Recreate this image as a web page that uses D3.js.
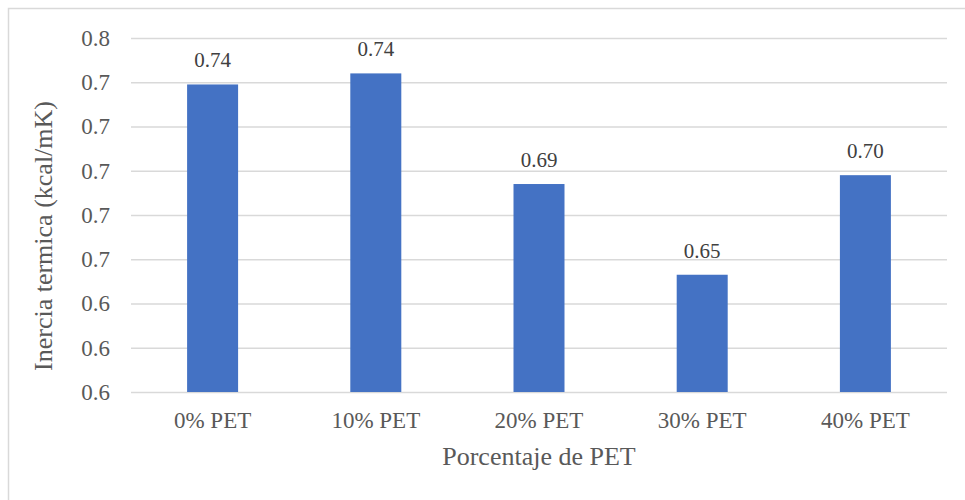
<!DOCTYPE html>
<html>
<head>
<meta charset="utf-8">
<script src="https://cdn.jsdelivr.net/npm/d3@7"></script>
<style>
  html, body { margin: 0; padding: 0; background: #ffffff; }
  svg { display: block; }
  text { font-family: "Liberation Serif", "Times New Roman", serif; }
</style>
</head>
<body>
<svg id="chart" width="965" height="500"></svg>
<script>
// Thermal inertia by PET content
const categories = ["0% PET", "10% PET", "20% PET", "30% PET", "40% PET"];
const inertia = [0.739, 0.744, 0.694, 0.653, 0.698];
const yTickValues = [0.60, 0.62, 0.64, 0.66, 0.68, 0.70, 0.72, 0.74, 0.76];
const yTitle = "Inercia termica (kcal/mK)";
const xTitle = "Porcentaje de PET";

const svg = d3.select("#chart");
const plot = { left: 131, right: 947, top: 38, bottom: 392 };

// outer chart frame
svg.append("rect")
  .attr("x", 8.5).attr("y", 8.5)
  .attr("width", 1000).attr("height", 600)
  .attr("fill", "none")
  .attr("stroke", "#d9d9d9")
  .attr("stroke-width", 1.5);

const x = d3.scaleBand()
  .domain(categories)
  .range([plot.left, plot.right])
  .paddingInner(0.6875)
  .paddingOuter(0.34375);

const y = d3.scaleLinear()
  .domain([0.60, 0.76])
  .range([plot.bottom, plot.top]);

// gridlines and tick labels
const yAxis = d3.axisLeft(y)
  .tickValues(yTickValues)
  .tickFormat(d3.format(".1f"))
  .tickSize(-(plot.right - plot.left))
  .tickPadding(21);

const gy = svg.append("g")
  .attr("transform", `translate(${plot.left},0)`)
  .call(yAxis);
gy.select(".domain").remove();
gy.selectAll(".tick line")
  .attr("stroke", "#d9d9d9")
  .attr("stroke-width", 1.5);
gy.selectAll(".tick text")
  .attr("fill", "#595959")
  .style("font-size", "23px")
  .style("font-family", "'Liberation Serif', 'Times New Roman', serif");

// bars
svg.append("g").selectAll("rect")
  .data(categories)
  .join("rect")
  .attr("x", d => x(d))
  .attr("width", x.bandwidth())
  .attr("y", (d, i) => y(inertia[i]))
  .attr("height", (d, i) => y(0.60) - y(inertia[i]))
  .attr("fill", "#4472c4");

// value labels
svg.append("g").selectAll("text")
  .data(categories)
  .join("text")
  .attr("x", d => x(d) + x.bandwidth() / 2)
  .attr("y", (d, i) => y(inertia[i]) - 17)
  .attr("text-anchor", "middle")
  .attr("fill", "#404040")
  .style("font-size", "21px")
  .text((d, i) => d3.format(".2f")(inertia[i]));

// category axis
const xAxis = d3.axisBottom(x).tickSize(0).tickPadding(20);
const gx = svg.append("g")
  .attr("transform", `translate(0,${plot.bottom})`)
  .call(xAxis);
gx.select(".domain").remove();
gx.selectAll(".tick text")
  .attr("fill", "#595959")
  .style("font-size", "23px")
  .style("font-family", "'Liberation Serif', 'Times New Roman', serif");

// axis titles
svg.append("text")
  .attr("x", (plot.left + plot.right) / 2)
  .attr("y", 465)
  .attr("text-anchor", "middle")
  .attr("fill", "#595959")
  .style("font-size", "26px")
  .text(xTitle);

svg.append("text")
  .attr("transform", "translate(52,236) rotate(-90)")
  .attr("text-anchor", "middle")
  .attr("fill", "#595959")
  .style("font-size", "26px")
  .text(yTitle);
</script>
</body>
</html>
